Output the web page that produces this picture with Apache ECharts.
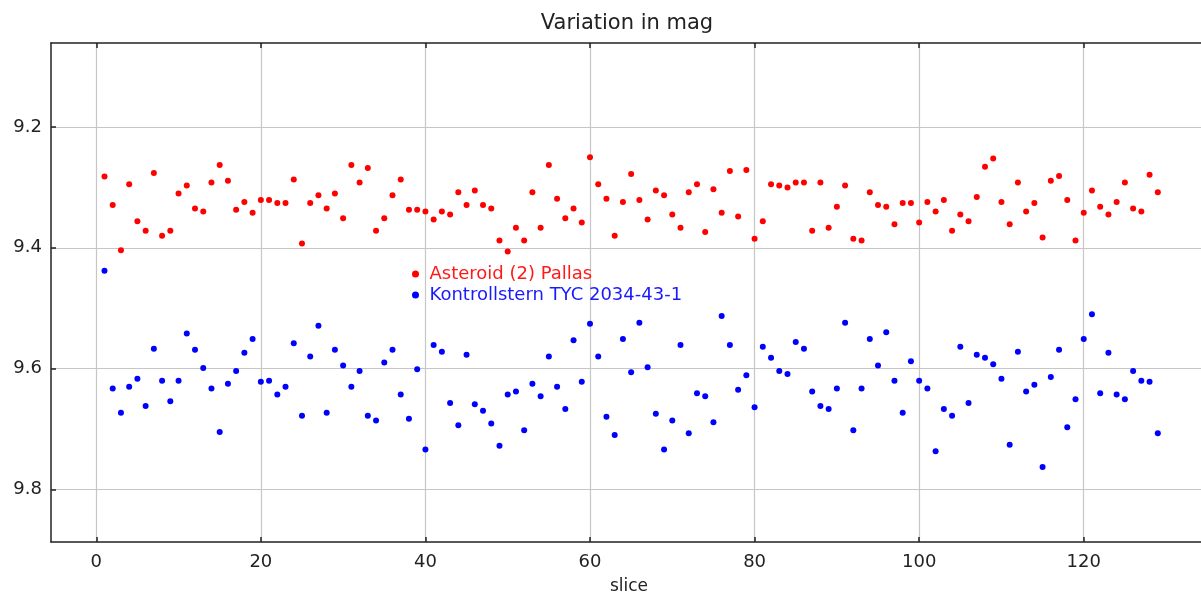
<!DOCTYPE html>
<html lang="en">
<head>
<meta charset="UTF-8">
<title>Variation in mag</title>
<script src="https://cdn.jsdelivr.net/npm/echarts@6/dist/echarts.min.js"></script>
<style>
  html, body { margin: 0; padding: 0; background: #fff; }
  #chart { width: 1201px; height: 597px; }
</style>
</head>
<body>
<div id="chart"></div>
<script>
// magnitudes per slice (slice 1..129)
const pallas = [
  9.282, 9.329, 9.404, 9.295, 9.356, 9.372, 9.276, 9.380, 9.372, 9.310,
  9.297, 9.335, 9.340, 9.292, 9.263, 9.289, 9.337, 9.324, 9.342, 9.321,
  9.321, 9.326, 9.326, 9.287, 9.393, 9.326, 9.313, 9.335, 9.310, 9.351,
  9.263, 9.292, 9.268, 9.372, 9.351, 9.313, 9.287, 9.337, 9.337, 9.340,
  9.353, 9.340, 9.345, 9.308, 9.329, 9.305, 9.329, 9.335, 9.388, 9.406,
  9.367, 9.388, 9.308, 9.367, 9.263, 9.319, 9.351, 9.335, 9.358, 9.250,
  9.295, 9.319, 9.380, 9.324, 9.278, 9.321, 9.353, 9.305, 9.313, 9.345,
  9.367, 9.308, 9.295, 9.374, 9.303, 9.342, 9.273, 9.348, 9.271, 9.385,
  9.356, 9.295, 9.297, 9.300, 9.292, 9.292, 9.372, 9.292, 9.367, 9.332,
  9.297, 9.385, 9.388, 9.308, 9.329, 9.332, 9.361, 9.326, 9.326, 9.358,
  9.324, 9.340, 9.321, 9.372, 9.345, 9.356, 9.316, 9.266, 9.252, 9.324,
  9.361, 9.292, 9.340, 9.326, 9.383, 9.289, 9.281, 9.321, 9.388, 9.342,
  9.305, 9.332, 9.345, 9.324, 9.292, 9.335, 9.340, 9.279, 9.308
];
const kontroll = [
  9.438, 9.633, 9.673, 9.630, 9.617, 9.662, 9.567, 9.620, 9.654, 9.620,
  9.542, 9.569, 9.599, 9.633, 9.705, 9.625, 9.604, 9.574, 9.551, 9.622,
  9.620, 9.643, 9.630, 9.558, 9.678, 9.580, 9.529, 9.673, 9.569, 9.595,
  9.630, 9.604, 9.678, 9.686, 9.590, 9.569, 9.643, 9.683, 9.601, 9.734,
  9.561, 9.572, 9.657, 9.694, 9.577, 9.659, 9.670, 9.691, 9.728, 9.643,
  9.638, 9.702, 9.625, 9.646, 9.580, 9.630, 9.667, 9.553, 9.622, 9.526,
  9.580, 9.680, 9.710, 9.551, 9.606, 9.524, 9.598, 9.675, 9.734, 9.686,
  9.561, 9.707, 9.641, 9.646, 9.689, 9.513, 9.561, 9.635, 9.611, 9.664,
  9.564, 9.582, 9.604, 9.609, 9.556, 9.567, 9.638, 9.662, 9.667, 9.633,
  9.524, 9.702, 9.633, 9.551, 9.595, 9.540, 9.620, 9.673, 9.588, 9.620,
  9.633, 9.737, 9.667, 9.678, 9.564, 9.657, 9.577, 9.582, 9.593, 9.617,
  9.726, 9.572, 9.638, 9.627, 9.763, 9.614, 9.569, 9.697, 9.651, 9.551,
  9.510, 9.641, 9.574, 9.643, 9.651, 9.604, 9.620, 9.622, 9.707
];
const xTicks = [0, 20, 40, 60, 80, 100, 120];
const yTicks = [9.2, 9.4, 9.6, 9.8];

const font = 'DejaVu Sans';
const toPairs = arr => arr.map((v, i) => [i + 1, v]);

const chart = echarts.init(document.getElementById('chart'));

const axisLine = { show: true, onZero: false, lineStyle: { color: '#222', width: 1.5 } };
const tick = { show: true, inside: true, length: 5, lineStyle: { color: '#222', width: 1.5 } };
const grid = { show: true, lineStyle: { color: '#c6c6c6', width: 1.2 } };

chart.setOption({
  animation: false,
  graphic: [
    { type: 'text', x: 627, y: 24, style: { text: 'Variation in mag', font: '21px "DejaVu Sans"', fill: '#222', textAlign: 'center', textVerticalAlign: 'middle' } },
    { type: 'text', x: 629, y: 587, style: { text: 'slice', font: '17px "DejaVu Sans"', fill: '#222', textAlign: 'center', textVerticalAlign: 'middle' } }
  ],
  legend: {
    orient: 'vertical',
    left: 412,
    top: 265,
    padding: 0,
    icon: 'circle',
    itemWidth: 18,
    itemHeight: 7,
    itemGap: 3,
    selectedMode: false,
    textStyle: { fontFamily: font, fontSize: 18, padding: [0, 0, 0, 0] },
    data: [
      { name: 'Asteroid (2) Pallas', textStyle: { color: '#ff1a1a' } },
      { name: 'Kontrollstern TYC 2034-43-1', textStyle: { color: '#1a1aff' } }
    ]
  },
  grid: { left: 51, top: 43, right: 0, bottom: 55, containLabel: false },
  xAxis: [
    {
      type: 'value', min: -5.5, max: 134.25, position: 'bottom',
      axisLine, axisTick: { ...tick, customValues: xTicks },
      axisLabel: { customValues: xTicks, margin: 11, color: '#222', fontFamily: font, fontSize: 18 },
      splitLine: grid
    },
    {
      type: 'value', min: -5.5, max: 134.25, position: 'top',
      axisLine, axisTick: { ...tick, customValues: xTicks },
      axisLabel: { show: false }, splitLine: { show: false }
    }
  ],
  yAxis: {
    type: 'value', inverse: true, min: 9.0609, max: 9.8872,
    axisLine, axisTick: { ...tick, customValues: yTicks },
    axisLabel: { customValues: yTicks, margin: 9, color: '#222', fontFamily: font, fontSize: 18, formatter: v => v.toFixed(1) },
    splitLine: grid
  },
  series: [
    {
      name: 'Asteroid (2) Pallas', type: 'scatter', symbol: 'circle', symbolSize: 6,
      itemStyle: { color: '#ff0000', opacity: 1 }, data: toPairs(pallas)
    },
    {
      name: 'Kontrollstern TYC 2034-43-1', type: 'scatter', symbol: 'circle', symbolSize: 6,
      itemStyle: { color: '#0000ff', opacity: 1 }, data: toPairs(kontroll)
    }
  ]
});
</script>
</body>
</html>
